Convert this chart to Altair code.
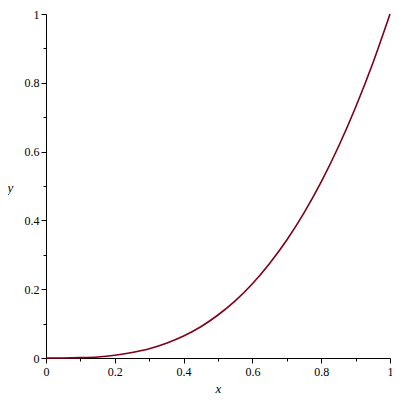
import altair as alt
import pandas as pd

xs = [0.0, 0.05, 0.1, 0.15, 0.2, 0.25, 0.3, 0.35, 0.4, 0.45, 0.5,
      0.55, 0.6, 0.65, 0.7, 0.75, 0.8, 0.85, 0.9, 0.95, 1.0]
ys = [0.0, 0.0001, 0.001, 0.003, 0.008, 0.016, 0.027, 0.043, 0.064, 0.091, 0.125,
      0.166, 0.216, 0.275, 0.343, 0.422, 0.512, 0.614, 0.729, 0.857, 1.0]
tick_vals = [0.0, 0.1, 0.2, 0.3, 0.4, 0.5, 0.6, 0.7, 0.8, 0.9, 1.0]

df = pd.DataFrame({"x": xs, "y": ys})

FONT = "Liberation Serif"
major = "round(datum.value*10)%2==0"
label_expr = f"{major} ? format(datum.value, '~g') : ''"

common = dict(
    values=tick_vals,
    labelExpr=label_expr,
    labelFont=FONT,
    labelFontSize=12,
    labelColor="black",
    domainColor="black",
    domainWidth=1,
    tickColor="black",
    tickWidth=1,
    tickSize={"condition": {"test": major, "value": 5}, "value": 3},
    grid=False,
    titleFont=FONT,
    titleFontStyle="italic",
    titleFontWeight="normal",
    titleFontSize=13,
    titleColor="black",
    titleAngle=0,
    titleAlign="center",
    titleBaseline="middle",
)

chart = alt.Chart(df).mark_line(color="#7f0018", strokeWidth=1.6, interpolate="monotone").encode(
    x=alt.X("x:Q", scale=alt.Scale(domain=[0, 1], nice=False, zero=False),
            axis=alt.Axis(title="x", labelPadding=3, titleX=172, titleY=30, labelFlush=False, **common)),
    y=alt.Y("y:Q", scale=alt.Scale(domain=[0, 1], nice=False, zero=False),
            axis=alt.Axis(title="y", labelPadding=2, titleX=-36, titleY=173, labelFlush=False, **common)),
).properties(
    width=344, height=344,
    autosize="none",
    padding={"left": 38, "top": 6, "right": 2, "bottom": 40},
    background="white",
).configure_view(strokeWidth=0, stroke="transparent")

chart.save("out.html", embed_options={"renderer": "svg", "actions": False})
